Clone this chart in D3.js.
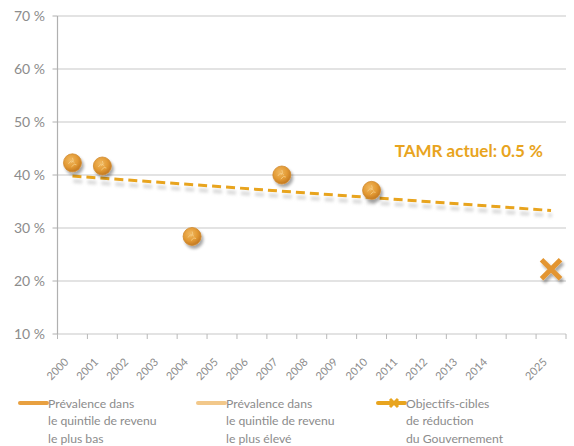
<!DOCTYPE html>
<html><head><meta charset="utf-8">
<script src="https://cdnjs.cloudflare.com/ajax/libs/d3/7.8.5/d3.min.js"></script>
<style>body{margin:0;background:#fff;} svg{display:block;font-family:Lato,"Open Sans",sans-serif;}</style>
</head><body>
<svg id="c" width="574" height="446"></svg>
<script>
const categories = ["2000","2001","2002","2003","2004","2005","2006","2007","2008","2009","2010","2011","2012","2013","2014","gap","2025"];
const obsYears = ["2000","2001","2004","2007","2010"];
const obsValues = [42.3, 41.7, 28.4, 40.0, 37.1];
const targetYear = ["2025"];
const targetValue = [22.2];
const trendYears = ["2000","2025"];
const trendValues = [39.8, 33.3];
const yTicks = [10,20,30,40,50,60,70];
const legendLabels = [["Prévalence dans","le quintile de revenu","le plus bas"],["Prévalence dans","le quintile de revenu","le plus élevé"],["Objectifs-cibles","de réduction","du Gouvernement"]];
const annotation = "TAMR actuel: 0.5 %";

const svg = d3.select("#c");
const m = {l:57.5, r:566, t:16, b:334};
const x = d3.scaleBand().domain(categories).range([m.l, m.r]);
const y = d3.scaleLinear().domain([10,70]).range([m.b, m.t]);
const cx = d => x(d) + x.bandwidth()/2;

const defs = svg.append("defs");
const rg = defs.append("radialGradient").attr("id","ball").attr("cx","40%").attr("cy","35%").attr("r","65%");
rg.append("stop").attr("offset","0%").attr("stop-color","#F0B860");
rg.append("stop").attr("offset","60%").attr("stop-color","#E39A34");
rg.append("stop").attr("offset","100%").attr("stop-color","#C47A22");
const sh = defs.append("filter").attr("id","sh").attr("x","-50%").attr("y","-50%").attr("width","200%").attr("height","200%");
sh.append("feGaussianBlur").attr("in","SourceAlpha").attr("stdDeviation",1.6).attr("result","b");
sh.append("feOffset").attr("in","b").attr("dx",1.5).attr("dy",3).attr("result","o");
sh.append("feComponentTransfer").attr("in","o").attr("result","o2").append("feFuncA").attr("type","linear").attr("slope",0.35);
const mg = sh.append("feMerge"); mg.append("feMergeNode").attr("in","o2"); mg.append("feMergeNode").attr("in","SourceGraphic");

// grid
svg.append("g").selectAll("line").data(yTicks).join("line")
  .attr("x1", m.l).attr("x2", m.r).attr("y1", d=>y(d)).attr("y2", d=>y(d))
  .attr("stroke","#c8c8c8").attr("stroke-width",1.2);
svg.append("line").attr("x1",m.l).attr("x2",m.l).attr("y1",m.t).attr("y2",m.b).attr("stroke","#b0b0b0").attr("stroke-width",1.2);
svg.append("g").selectAll("text").data(yTicks).join("text")
  .attr("x", 45).attr("y", d=>y(d)).attr("dy","0.35em").attr("text-anchor","end")
  .attr("fill","#8c8c8c").attr("font-size",14).text(d=>d+" %");
svg.append("g").selectAll("line").data(yTicks).join("line")
  .attr("x1",m.l-5).attr("x2",m.l).attr("y1",d=>y(d)).attr("y2",d=>y(d)).attr("stroke","#b0b0b0");
const edges = categories.map(c=>x(c)).concat([x(categories[categories.length-1])+x.bandwidth()]);
svg.append("g").selectAll("line").data(edges).join("line")
  .attr("x1",d=>d).attr("x2",d=>d).attr("y1",m.b).attr("y2",m.b+5).attr("stroke","#b8b8b8");
svg.append("g").selectAll("text").data(categories.filter(c=>c!=="gap")).join("text")
  .attr("transform", d=>`translate(${cx(d)-6},${m.b+26}) rotate(-45)`)
  .attr("text-anchor","end").attr("dy","0.35em").attr("fill","#8c8c8c").attr("font-size",11).text(d=>d);

// trend line
const tl = d3.line().x(d=>cx(d[0])).y(d=>y(d[1]));
const tdata = trendYears.map((t,i)=>[t,trendValues[i]]);
svg.append("path").attr("d",tl(tdata)).attr("transform","translate(1,5)").attr("stroke","#999").attr("stroke-opacity",0.35)
  .attr("stroke-width",4).attr("stroke-dasharray","9,5").attr("fill","none").style("filter","blur(1.5px)");
svg.append("path").attr("d",tl(tdata)).attr("stroke","#E8A41E").attr("stroke-width",3).attr("stroke-dasharray","9,5").attr("fill","none");

// points
svg.append("g").selectAll("circle").data(obsYears).join("circle")
  .attr("cx",d=>cx(d)).attr("cy",(d,i)=>y(obsValues[i])).attr("r",9)
  .attr("fill","url(#ball)").attr("stroke","#D08A30").attr("stroke-width",0.8).attr("filter","url(#sh)");
svg.append("g").selectAll("path").data(obsYears).join("path")
  .attr("d",(d,i)=>{const X=cx(d),Y=y(obsValues[i]);return `M${X-4},${Y+1}q3,-5 6,-1 M${X-1},${Y+4}q3,-4 5,-2 M${X},${Y-5}q2,3 -1,5`;})
  .attr("stroke","#F6D08A").attr("stroke-width",1).attr("fill","none").attr("opacity",0.8);

// target X
const tg = svg.append("g").attr("filter","url(#sh)");
targetYear.forEach((t,i)=>{
  const X=cx(t),Y=y(targetValue[i]),s=9.5;
  tg.append("path").attr("d",`M${X-s},${Y-s}L${X+s},${Y+s}M${X-s},${Y+s}L${X+s},${Y-s}`)
    .attr("stroke","#E39530").attr("stroke-width",5).attr("fill","none");
});

// annotation
svg.append("text").attr("x",543).attr("y",157).attr("text-anchor","end").attr("fill","#E8A41E")
  .attr("font-weight","bold").attr("font-size",17).text(annotation);

// legend
const lx = [20, 198, 378];
const lcol = ["#E8A040","#F2C88A","#E8A41E"];
legendLabels.forEach((lab,i)=>{
  const g = svg.append("g");
  g.append("line").attr("x1",lx[i]).attr("x2",lx[i]+27).attr("y1",403).attr("y2",403).attr("stroke",lcol[i]).attr("stroke-width",4).attr("stroke-linecap","round");
  if(i===2){
    g.append("path").attr("d",`M${lx[i]+12},399L${lx[i]+20},407M${lx[i]+12},407L${lx[i]+20},399`).attr("stroke",lcol[i]).attr("stroke-width",3);
  }
  g.selectAll("text").data(lab).join("text").attr("x",lx[i]+28).attr("y",(d,j)=>408+j*17.3)
    .attr("fill","#8c8c8c").attr("font-size",12.2).text(d=>d);
});
</script>
</body></html>
